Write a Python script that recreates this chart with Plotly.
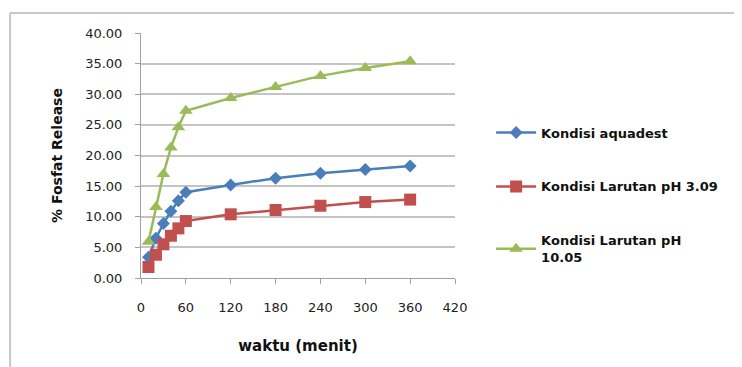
import plotly.graph_objects as go

waktu = [10, 20, 30, 40, 50, 60, 120, 180, 240, 300, 360]
aquadest = [3.4, 6.5, 8.9, 10.9, 12.6, 14.0, 15.2, 16.3, 17.1, 17.7, 18.3]
ph309 = [1.8, 3.8, 5.5, 6.9, 8.1, 9.3, 10.4, 11.1, 11.8, 12.4, 12.8]
ph1005 = [5.9, 11.6, 17.0, 21.3, 24.6, 27.3, 29.4, 31.2, 33.0, 34.3, 35.4]

names = ["Kondisi aquadest", "Kondisi Larutan pH 3.09", "Kondisi Larutan pH<br>10.05"]
colors = ["#4a7ebb", "#c0504d", "#9bbb59"]
symbols = ["diamond", "square", "triangle-up"]
sizes = [10, 12, 12]
series = [aquadest, ph309, ph1005]

xticks = [0, 60, 120, 180, 240, 300, 360, 420]
yticks = [0, 5, 10, 15, 20, 25, 30, 35, 40]

fig = go.Figure()
for i, (ys, nm) in enumerate(zip(series, names)):
    fig.add_trace(go.Scatter(
        x=waktu, y=ys, name=nm, mode="lines+markers",
        line=dict(color=colors[i], width=2.5),
        marker=dict(color=colors[i], symbol=symbols[i], size=sizes[i]),
        legendgroup=str(i),
    ))

fnt = "'DejaVu Sans', sans-serif"
fig.update_layout(
    width=742, height=367,
    margin=dict(l=133, r=295, t=25, b=97, autoexpand=False),
    paper_bgcolor="white", plot_bgcolor="white",
    font=dict(family=fnt, size=13, color="#222"),
    showlegend=True,
    legend=dict(x=1.115, y=0.655, xanchor="left", yanchor="top",
                font=dict(family=fnt, size=13, color="#111", weight="bold"),
                tracegroupgap=34, itemwidth=40, bgcolor="rgba(0,0,0,0)"),
    xaxis=dict(range=[0, 420], tickvals=xticks, ticktext=[str(v) for v in xticks],
               showgrid=False, zeroline=False, showline=True, linecolor="#a0a0a0", linewidth=1,
               ticks="outside", ticklen=5, tickcolor="#a0a0a0", automargin=False,
               tickfont=dict(size=13, color="#222"), ticklabelstandoff=12,
               title=dict(text="waktu (menit)", font=dict(family=fnt, size=15, color="#111", weight="bold"), standoff=26)),
    yaxis=dict(range=[0, 40], tickvals=yticks, tickformat=".2f",
               showgrid=True, gridcolor="#c4c4c4", gridwidth=1.5,
               zeroline=False, showline=True, linecolor="#a0a0a0", linewidth=1,
               ticks="outside", ticklen=5, tickcolor="#a0a0a0", automargin=False,
               tickfont=dict(size=13, color="#222"), ticklabelstandoff=10,
               title=dict(text="% Fosfat Release", font=dict(family=fnt, size=14, color="#111", weight="bold"), standoff=19)),
)

# outer chart frame (left and top edges visible)
fig.add_shape(type="line", xref="paper", yref="paper", x0=-0.417, x1=-0.417, y0=1.082, y1=-0.4,
              line=dict(color="#c8c8c8", width=2))
fig.add_shape(type="line", xref="paper", yref="paper", x0=-0.417, x1=1.95, y0=1.082, y1=1.082,
              line=dict(color="#c8c8c8", width=2))

fig.write_html("out.html")
